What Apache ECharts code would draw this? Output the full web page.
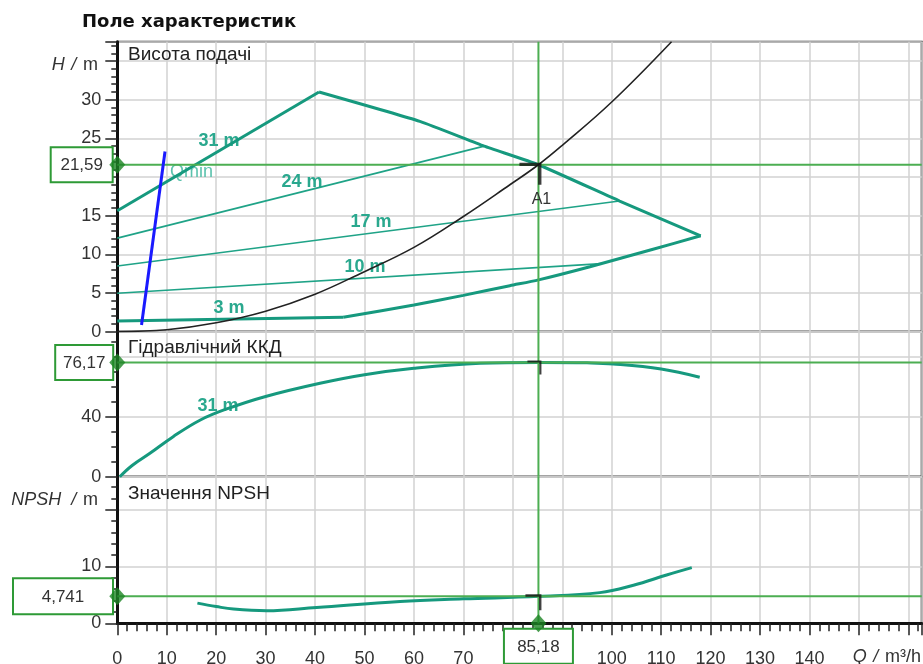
<!DOCTYPE html>
<html>
<head>
<meta charset="utf-8">
<title>Поле характеристик</title>
<script src="https://cdn.jsdelivr.net/npm/echarts@6/dist/echarts.min.js"></script>
<style>
  html, body { margin: 0; padding: 0; background: #fff; }
  #chart { width: 923px; height: 664px; }
</style>
</head>
<body>
<div id="chart"></div>
<script>
// ---- Flow axis (Q, m³/h) ----
const Q_MAX = 162.7;
const Q_LABEL_LAST = 140;

// ---- Head field: operating envelope and Δp-v control lines (H, m) ----
const envLeftQ = [0, 40.8];
const envLeftH = [15.65, 31.0];
const envTopQ = [40.8, 61.2, 74.2, 85.18, 101.6, 118.0];
const envTopH = [31.0, 27.2, 24.0, 21.59, 16.9, 12.4];
const envBottomQ = [118.0, 108.0, 95.6, 85.2, 79.4, 70.0, 60.0, 45.7];
const envBottomH = [12.4, 10.6, 8.4, 6.7, 5.95, 4.7, 3.45, 1.86];
const line3Q = [0, 45.7];
const line3H = [1.38, 1.86];
const line10Q = [0, 98.0];
const line10H = [4.97, 8.8];
const line17Q = [0, 101.6];
const line17H = [8.5, 16.9];
const line24Q = [0, 74.2];
const line24H = [12.1, 24.0];
const qminQ = [4.9, 9.65];
const qminH = [0.87, 23.3];

// ---- System curve ----
const systemQ = [0, 10, 20, 30, 40, 49.1, 60, 70, 79.4, 85.18, 90, 100, 112.1];
const systemH = [0, 0.25, 1.15, 2.65, 4.85, 7.5, 10.9, 14.9, 19.0, 21.59, 24.1, 29.7, 37.5];

// ---- Hydraulic efficiency (%) ----
const effQ = [0.5, 3, 6.6, 11.3, 16.8, 22, 30, 41, 50, 60, 73.4, 85.18, 95, 100.3, 110, 117.8];
const effVal = [0, 7.5, 15.6, 26.7, 37.8, 45, 53.5, 62.3, 68.0, 72.3, 75.6, 76.17, 75.9, 75.2, 71.8, 66.3];

// ---- NPSH (m) ----
const npshQ = [16.2, 20, 23.5, 30.2, 40.3, 57.2, 70, 85.18, 97.6, 104.4, 111.1, 116.2];
const npshVal = [3.55, 2.95, 2.5, 2.22, 2.8, 3.85, 4.3, 4.741, 5.4, 6.7, 8.5, 9.8];

// ---- Duty point A1 ----
const dutyQ = 85.18;
const dutyH = 21.59;
const dutyEta = 76.17;
const dutyNpsh = 4.741;

// ---- Vertical axis ranges and tick steps ----
const headMax = 37.5, headStep = 5, headLabelLast = 30;
const etaMax = 96.67, etaStep = 40, etaLabelLast = 80;
const npshMax = 25.8, npshStep = 10, npshLabelLast = 10;

const FONT = '"Liberation Sans", Arial, sans-serif';
const TEAL = '#16997e';
const TEAL_THIN = '#1fa387';
const TEAL_TEXT = '#2aa88e';
const GREEN = '#4cae52';
const GREEN_DARK = '#1d8424';
const GRID_GRAY = '#d2d2d2';

const zip = (xs, ys) => xs.map((x, i) => [x, ys[i]]);
const comma = v => String(v).replace('.', ',');

const chart = echarts.init(document.getElementById('chart'), null, { renderer: 'canvas' });

const gridBox = [
  { left: 117.3, right: 1.3, top: 41.7, height: 290 },
  { left: 117.3, right: 1.3, top: 331.7, height: 145 },
  { left: 117.3, right: 1.3, top: 476.7, height: 146.6 }
];

function xAxisFor(i) {
  const isBottom = i === 2;
  return {
    type: 'value', gridIndex: i, min: 0, max: Q_MAX, interval: 10,
    axisLine: { show: isBottom, onZero: false, lineStyle: { color: '#111', width: 3 } },
    axisTick: { show: isBottom, inside: false, length: 12, lineStyle: { color: '#222', width: 1.5 } },
    minorTick: { show: isBottom, splitNumber: 5, length: 8, lineStyle: { color: '#222', width: 1.5 } },
    axisLabel: {
      show: isBottom, margin: 27, color: '#333', fontSize: 18, fontFamily: FONT,
      showMaxLabel: false,
      formatter: v => (Math.abs(v % 10) < 1e-6 && v <= Q_LABEL_LAST) ? String(v) : ''
    },
    splitLine: { show: true, lineStyle: { color: GRID_GRAY, width: 1.5 } },
    minorSplitLine: { show: false }
  };
}

function yAxisFor(i, max, step, minorSplit, labelLast) {
  return {
    type: 'value', gridIndex: i, min: 0, max: max, interval: step,
    axisLine: { show: true, onZero: false, lineStyle: { color: '#111', width: 3 } },
    axisTick: { show: true, inside: false, length: 12, lineStyle: { color: '#222', width: 1.5 } },
    minorTick: { show: true, splitNumber: minorSplit, length: 6, lineStyle: { color: '#222', width: 1.5 } },
    axisLabel: {
      margin: 16, color: '#333', fontSize: 18, fontFamily: FONT, showMaxLabel: false,
      formatter: v => (Math.abs(v % step) < 1e-6 && v <= labelLast) ? String(v) : ''
    },
    splitLine: { show: true, lineStyle: { color: GRID_GRAY, width: 1.5 } },
    minorSplitLine: { show: false }
  };
}

function curve(name, xs, ys, gi, color, width, smooth, z) {
  return {
    name, type: 'line', xAxisIndex: gi, yAxisIndex: gi, data: zip(xs, ys),
    showSymbol: false, symbol: 'none', smooth: smooth || false,
    lineStyle: { color, width }, z: z || 3, silent: true, clip: true
  };
}

// Crosshair through the duty point, one piece per panel
function guide(name, data, gi) {
  return {
    name, type: 'line', xAxisIndex: gi, yAxisIndex: gi, data,
    showSymbol: false, symbol: 'none', lineStyle: { color: GREEN, width: 2 }, z: 4, silent: true
  };
}

function diamond(name, point, gi) {
  return {
    name, type: 'scatter', xAxisIndex: gi, yAxisIndex: gi, data: [point],
    symbol: 'diamond', symbolSize: [16, 18], itemStyle: { color: GREEN_DARK },
    clip: false, z: 60, zlevel: 1, silent: true
  };
}

// "┐" pointer mark at the duty point on each curve
const hookPath = 'path://M0,0 L20,0 L20,20 L17,20 L17,3 L0,3 Z';
function hook(name, point, gi, size) {
  return {
    name, type: 'scatter', xAxisIndex: gi, yAxisIndex: gi, data: [point],
    symbol: hookPath, symbolSize: size,
    symbolOffset: [-size / 2 + 3, size / 2 - 2],
    itemStyle: { color: '#111' }, z: 20, silent: true
  };
}

const option = {
  animation: false,
  backgroundColor: '#ffffff',
  grid: gridBox.map(g => Object.assign({
    show: true, borderColor: '#333', borderWidth: 2, backgroundColor: 'transparent',
    containLabel: false, outerBoundsMode: 'none'
  }, g)),
  xAxis: [xAxisFor(0), xAxisFor(1), xAxisFor(2)],
  yAxis: [
    yAxisFor(0, headMax, headStep, 5, headLabelLast),
    yAxisFor(1, etaMax, etaStep, 4, etaLabelLast),
    yAxisFor(2, npshMax, npshStep, 5, npshLabelLast)
  ],
  series: [
    // crosshair
    guide('h-duty', [[0, dutyH], [Q_MAX, dutyH]], 0),
    guide('q-duty-0', [[dutyQ, 0], [dutyQ, headMax]], 0),
    guide('eta-duty', [[0, dutyEta], [Q_MAX, dutyEta]], 1),
    guide('q-duty-1', [[dutyQ, 0], [dutyQ, etaMax]], 1),
    guide('npsh-duty', [[0, dutyNpsh], [Q_MAX, dutyNpsh]], 2),
    guide('q-duty-2', [[dutyQ, 0], [dutyQ, npshMax]], 2),

    // head field
    curve('24 m', line24Q, line24H, 0, TEAL_THIN, 1.6),
    curve('17 m', line17Q, line17H, 0, TEAL_THIN, 1.6),
    curve('10 m', line10Q, line10H, 0, TEAL_THIN, 1.6),
    curve('3 m', line3Q, line3H, 0, TEAL, 3),
    curve('env-left', envLeftQ, envLeftH, 0, TEAL, 3),
    curve('env-top', envTopQ, envTopH, 0, TEAL, 3, 0.15),
    curve('env-bottom', envBottomQ, envBottomH, 0, TEAL, 3, 0.25),
    curve('system', systemQ, systemH, 0, '#222', 1.6, 0.4, 5),
    curve('Qmin', qminQ, qminH, 0, '#1a1aff', 3, false, 6),

    // efficiency and NPSH
    curve('eta', effQ, effVal, 1, TEAL, 3, 0.4),
    curve('npsh', npshQ, npshVal, 2, TEAL, 3, 0.4),

    // duty point markers
    hook('hook-h', [dutyQ, dutyH], 0, 22),
    hook('hook-eta', [dutyQ, dutyEta], 1, 14),
    hook('hook-npsh', [dutyQ, dutyNpsh], 2, 16),
    diamond('d-h', [0, dutyH], 0),
    diamond('d-eta', [0, dutyEta], 1),
    diamond('d-npsh', [0, dutyNpsh], 2),
    diamond('d-q', [dutyQ, 0], 2)
  ]
};

chart.setOption(option);

// ---- Text overlay: titles, curve labels, value boxes ----
function text(str, x, y, opts) {
  const o = opts || {};
  return {
    type: 'text', x, y, z: o.z || 40, silent: true,
    style: {
      text: str, fill: o.color || '#222',
      font: (o.weight || 'normal') + ' ' + (o.size || 17) + 'px ' + (o.family || FONT),
      align: o.align || 'left', verticalAlign: o.vAlign || 'middle',
      textAlign: o.align || 'left', textVerticalAlign: o.vAlign || 'middle'
    }
  };
}

function valueBox(label, cx, cy, w, h) {
  return [
    {
      type: 'rect', z: 10, silent: true,
      shape: { x: cx - w / 2, y: cy - h / 2, width: w, height: h },
      style: { fill: '#ffffff', stroke: '#2e9a36', lineWidth: 2 }
    },
    text(label, cx, cy + 1, { z: 11, color: '#333', size: 17, align: 'center' })
  ];
}

const italicRich = {
  i: { fontStyle: 'italic', fontFamily: FONT, fontSize: 18, fill: '#333', color: '#333' },
  n: { fontStyle: 'normal', fontFamily: FONT, fontSize: 18, fill: '#333', color: '#333' }
};

function richText(str, x, y) {
  return {
    type: 'text', x, y, z: 40, silent: true,
    style: {
      text: str, rich: italicRich, align: 'right', textAlign: 'right',
      verticalAlign: 'middle', textVerticalAlign: 'middle'
    }
  };
}

const pH = chart.convertToPixel({ xAxisIndex: 0, yAxisIndex: 0 }, [dutyQ, dutyH]);
const pEta = chart.convertToPixel({ xAxisIndex: 1, yAxisIndex: 1 }, [dutyQ, dutyEta]);
const pN = chart.convertToPixel({ xAxisIndex: 2, yAxisIndex: 2 }, [dutyQ, dutyNpsh]);
const axisX = chart.convertToPixel({ xAxisIndex: 2, yAxisIndex: 2 }, [0, 0]);

const graphic = [
  text('Поле характеристик', 82, 22, { weight: 'bold', size: 18, color: '#111', family: '"DejaVu Sans", sans-serif' }),
  text('Висота подачі', 128, 55, { size: 19, color: '#222' }),
  text('Гідравлічний ККД', 128, 348, { size: 19, color: '#222' }),
  text('Значення NPSH', 128, 494, { size: 19, color: '#222' }),

  richText('{i|H}  {i|/}  {n|m}', 98, 65),
  richText('{i|NPSH}   {i|/}  {n|m}', 98, 500),
  richText('{i|Q}  {i|/}  {n|m³/h}', 921, 657),

  text('31 m', 219, 141, { weight: 'bold', size: 18, color: TEAL_TEXT, align: 'center', z: 1 }),
  text('Qmin', 170, 172, { size: 18, color: '#5cc2ad', z: 1 }),
  text('24 m', 302, 182, { weight: 'bold', size: 18, color: TEAL_TEXT, align: 'center', z: 1 }),
  text('17 m', 371, 222, { weight: 'bold', size: 18, color: TEAL_TEXT, align: 'center', z: 1 }),
  text('10 m', 365, 267, { weight: 'bold', size: 18, color: TEAL_TEXT, align: 'center', z: 1 }),
  text('3 m', 229, 308, { weight: 'bold', size: 18, color: TEAL_TEXT, align: 'center', z: 1 }),
  text('31 m', 218, 406, { weight: 'bold', size: 18, color: TEAL_TEXT, align: 'center', z: 1 }),
  text('A1', pH[0] + 3, pH[1] + 35, { size: 16, color: '#333', align: 'center' }),

  ...valueBox(comma(dutyH), 81.7, pH[1], 62, 35),
  ...valueBox(comma(dutyEta), 84.2, pEta[1], 58, 35),
  ...valueBox(comma(dutyNpsh), 63, pN[1], 100, 36),
  ...valueBox(comma(dutyQ), pN[0], axisX[1] + 23, 69, 35)
];

chart.setOption({ graphic: graphic });
</script>
</body>
</html>
